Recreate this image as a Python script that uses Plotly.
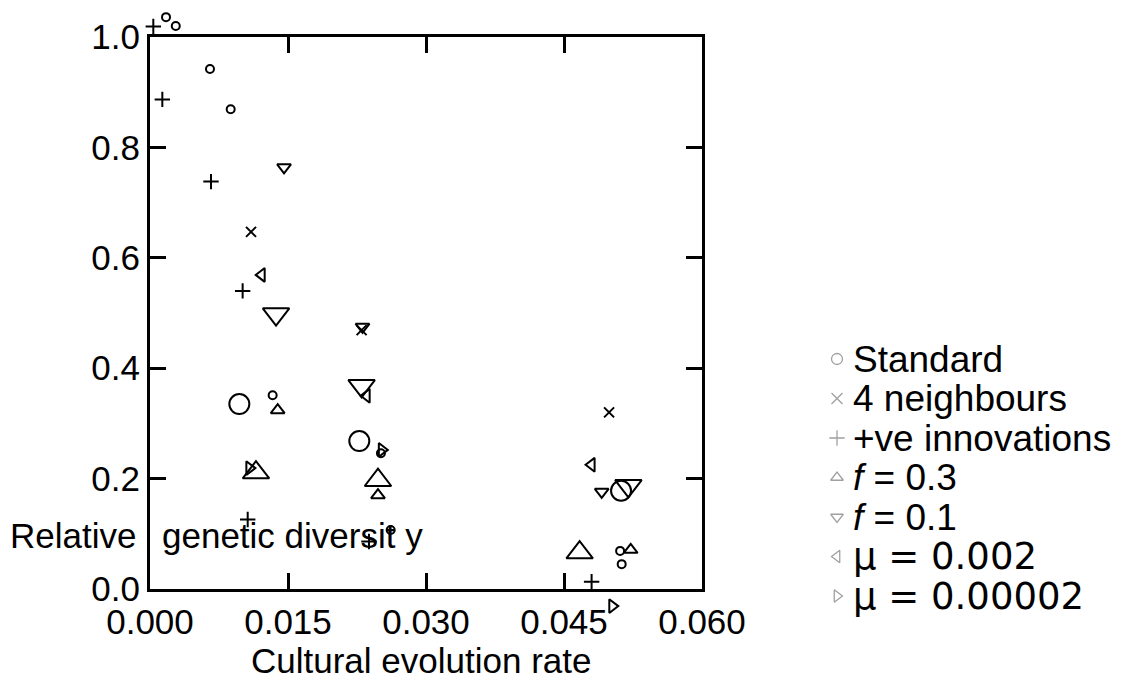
import plotly.graph_objects as go

# Cultural evolution rate (x) vs relative genetic diversity (y), one pair of lists per condition
standard_x = [0.00174, 0.0028, 0.00652, 0.00877, 0.01333, 0.0251, 0.02616, 0.0511, 0.05127]
standard_y = [1.036, 1.020, 0.942, 0.869, 0.351, 0.246, 0.107, 0.069, 0.045]
standard_big_x = [0.00971, 0.02275, 0.0512]
standard_big_y = [0.335, 0.268, 0.178]

neigh4_x = [0.01098, 0.0230, 0.0499]
neigh4_y = [0.647, 0.469, 0.320]

posinnov_x = [0.00036, 0.00134, 0.00663, 0.01007, 0.01062, 0.0238, 0.0480]
posinnov_y = [1.019, 0.887, 0.738, 0.540, 0.126, 0.086, 0.013]

f03_x = [0.01388, 0.02478, 0.05225]
f03_y = [0.324, 0.170, 0.071]
f03_big_x = [0.01152, 0.02478, 0.0467]
f03_big_y = [0.211, 0.197, 0.066]

f01_x = [0.01457, 0.0231, 0.0491]
f01_y = [0.764, 0.475, 0.176]
f01_big_x = [0.0137, 0.0230, 0.0520]
f01_big_y = [0.498, 0.368, 0.187]

mu_hi_x = [0.01214, 0.02355, 0.0480]
mu_hi_y = [0.569, 0.350, 0.225]

mu_lo_x = [0.0108, 0.0252, 0.05025]
mu_lo_y = [0.219, 0.252, -0.031]

x_ticks = [0.0, 0.015, 0.030, 0.045, 0.060]
x_tick_labels = ["0.000", "0.015", "0.030", "0.045", "0.060"]
y_ticks = [0.0, 0.2, 0.4, 0.6, 0.8, 1.0]
y_tick_labels = ["0.0", "0.2", "0.4", "0.6", "0.8", "1.0"]

legend_names = [
    "Standard",
    "4 neighbours",
    "+ve innovations",
    "<i>f</i> = 0.3",
    "<i>f</i> = 0.1",
    "\u03bc = 0.002",
    "\u03bc = 0.00002",
]
legend_symbols = ["circle-open", "x-thin-open", "cross-thin-open", "triangle-up-open",
                  "triangle-down-open", "triangle-left-open", "triangle-right-open"]

FONT = "Liberation Sans, Arial, sans-serif"
MU_FONT = "DejaVu Sans, sans-serif"

# Page geometry (pixels): framed plot box and key block
W, H = 1134, 682
BOX_L, BOX_R, BOX_T, BOX_B = 150, 702, 37, 589
X_RANGE = [0.0, 0.06]
Y_RANGE = [0.0, 1.0]
KEY_X = 837
KEY_TOP, KEY_STEP = 359, 39.5

sx = (X_RANGE[1] - X_RANGE[0]) / (BOX_R - BOX_L)
sy = (Y_RANGE[1] - Y_RANGE[0]) / (BOX_B - BOX_T)
# Full-page data axes with the same scale as the framed box, so points that sit
# just outside the frame are still drawn.
x_full = [X_RANGE[0] - BOX_L * sx, X_RANGE[1] + (W - BOX_R) * sx]
y_full = [Y_RANGE[0] - (H - BOX_B) * sy, Y_RANGE[1] + BOX_T * sy]

fig = go.Figure()

# Empty trace that owns the framed axes (frame, ticks and tick labels)
fig.add_trace(go.Scatter(x=[], y=[], xaxis="x", yaxis="y", mode="markers",
                         showlegend=False, hoverinfo="skip"))


def add_points(xs, ys, symbol, size):
    fig.add_trace(go.Scatter(
        x=xs, y=ys, xaxis="x2", yaxis="y2", mode="markers", showlegend=False,
        hoverinfo="x+y",
        marker=dict(symbol=symbol, size=size, color="black",
                    line=dict(color="black", width=2)),
    ))


add_points(standard_x, standard_y, "circle-open", 8)
add_points(standard_big_x, standard_big_y, "circle-open", 20)
add_points(neigh4_x, neigh4_y, "x-thin-open", 10)
add_points(posinnov_x, posinnov_y, "cross-thin-open", 11)
add_points(f03_x, f03_y, "triangle-up-open", 12)
add_points(f03_big_x, f03_big_y, "triangle-up-open", 23)
add_points(f01_x, f01_y, "triangle-down-open", 12)
add_points(f01_big_x, f01_big_y, "triangle-down-open", 23)
add_points(mu_hi_x, mu_hi_y, "triangle-left-open", 12)
add_points(mu_lo_x, mu_lo_y, "triangle-right-open", 12)

# Key: grey symbols, one row per condition
n_rows = len(legend_names)
rows = list(range(n_rows))
fig.add_trace(go.Scatter(
    x=[0] * n_rows, y=rows, xaxis="x3", yaxis="y3", mode="markers",
    showlegend=False, hoverinfo="skip",
    marker=dict(symbol=legend_symbols, size=11, color="#a0a0a0",
                line=dict(color="#a0a0a0", width=1.3)),
))
for i, name in enumerate(legend_names):
    is_mu = name.startswith("\u03bc")
    fig.add_annotation(
        text=name, xref="x3", yref="y3", x=0, y=i, xshift=14,
        xanchor="left", yanchor="middle", showarrow=False,
        font=dict(family=MU_FONT if is_mu else FONT, size=37, color="black"),
    )

axis_common = dict(
    showgrid=False, zeroline=False, showline=True, linecolor="black", linewidth=3,
    mirror="ticks", ticks="inside", ticklen=16, tickwidth=3, tickcolor="black",
    tickfont=dict(family=FONT, size=35, color="black"), automargin=False,
)
hidden = dict(visible=False, showgrid=False, zeroline=False, automargin=False, fixedrange=True)

key_top = KEY_TOP - KEY_STEP / 2
key_bot = KEY_TOP + KEY_STEP * (n_rows - 0.5)

fig.update_layout(
    width=W, height=H, template="none",
    margin=dict(l=0, r=0, t=0, b=0),
    paper_bgcolor="white", plot_bgcolor="rgba(0,0,0,0)",
    font=dict(family=FONT, size=35, color="black"),
    showlegend=False,
    xaxis=dict(domain=[BOX_L / W, BOX_R / W], range=X_RANGE,
               tickvals=x_ticks, ticktext=x_tick_labels, anchor="y", **axis_common),
    yaxis=dict(domain=[1 - BOX_B / H, 1 - BOX_T / H], range=Y_RANGE,
               tickvals=y_ticks, ticktext=y_tick_labels, anchor="x", **axis_common),
    xaxis2=dict(domain=[0, 1], range=x_full, anchor="y2", **hidden),
    yaxis2=dict(domain=[0, 1], range=y_full, anchor="x2", **hidden),
    xaxis3=dict(domain=[(KEY_X - 20) / W, (KEY_X + 20) / W], range=[-1, 1], anchor="y3", **hidden),
    yaxis3=dict(domain=[1 - key_bot / H, 1 - key_top / H], range=[n_rows - 0.5, -0.5],
                anchor="x3", **hidden),
)

fig.add_annotation(text="Cultural evolution rate", xref="paper", yref="paper",
                   x=421 / W, y=1 - 660 / H, xanchor="center", yanchor="middle", showarrow=False,
                   font=dict(family=FONT, size=35, color="black"))
fig.add_annotation(text="Relative", xref="paper", yref="paper",
                   x=138 / W, y=1 - 535 / H, xanchor="right", yanchor="middle", showarrow=False,
                   font=dict(family=FONT, size=35, color="black"))
fig.add_annotation(text="genetic diversit y", xref="paper", yref="paper",
                   x=160 / W, y=1 - 535 / H, xanchor="left", yanchor="middle", showarrow=False,
                   font=dict(family=FONT, size=35, color="black"))

fig.write_html("out.html")
